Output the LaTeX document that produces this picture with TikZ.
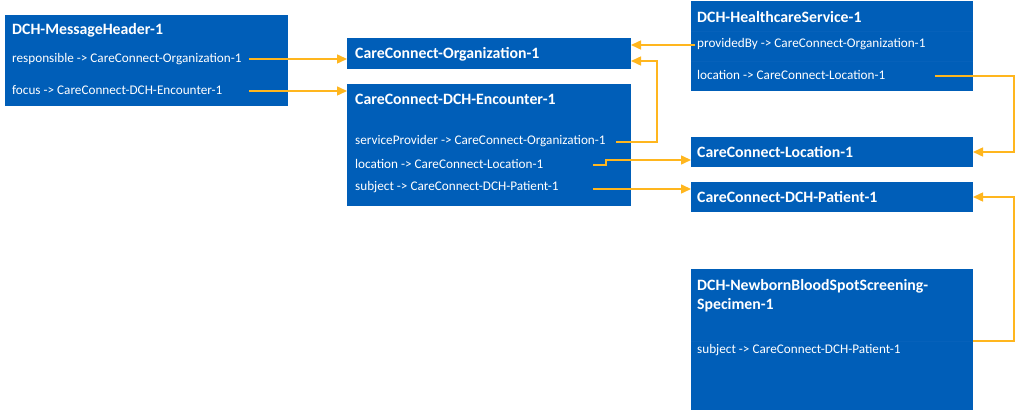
\documentclass[tikz,border=0pt]{standalone}
\usepackage{fontspec}
\setmainfont{Carlito}
\usetikzlibrary{arrows.meta}
\definecolor{boxblue}{RGB}{0,94,184}
\definecolor{sepblue}{RGB}{6,97,186}
\definecolor{linkorange}{RGB}{255,182,30}
\begin{document}
\begin{tikzpicture}[x=1pt,y=-1pt,
  box/.style={fill=boxblue, draw=none, inner sep=0pt, outer sep=0pt, anchor=north west},
  titletext/.style={anchor=west, text=white, inner sep=0pt, font=\bfseries\fontsize{15.8}{19}\selectfont, align=left},
  rowtext/.style={anchor=west, text=white, inner sep=0pt, font=\fontsize{13.2}{15}\selectfont},
  sep/.style={draw=sepblue, line width=0.5pt},
  link/.style={draw=linkorange, line width=1.5pt, -{Triangle[length=10pt,width=9pt]}}
]
\fill[white] (0,0) rectangle (1019,411);
\useasboundingbox (0,0) rectangle (1019,411);

% boxes
\node[box, minimum width=283pt, minimum height=91pt] (mh) at (5,15) {};
\node[box, minimum width=284pt, minimum height=31pt] (org) at (347,38) {};
\node[box, minimum width=284pt, minimum height=122pt] (enc) at (347,84) {};
\node[box, minimum width=282pt, minimum height=90pt] (hs) at (691,1) {};
\node[box, minimum width=282pt, minimum height=30pt] (loc) at (691,137) {};
\node[box, minimum width=282pt, minimum height=30pt] (pat) at (691,182) {};
\node[box, minimum width=282pt, minimum height=141pt] (nb) at (691,269) {};

% faint row separators
\draw[sep] (hs.west |- 0,31) -- (hs.east |- 0,31);
\draw[sep] (hs.west |- 0,61) -- (hs.east |- 0,61);
\draw[sep] (nb.west |- 0,341) -- (nb.east |- 0,341);

% texts
\node[titletext] (mht) at (12,30) {DCH-MessageHeader-1};
\node[rowtext] (mhr) at (12,59) {responsible -> CareConnect-Organization-1};
\node[rowtext] (mhf) at (12,90) {focus -> CareConnect-DCH-Encounter-1};

\node[titletext] (orgt) at (355,54) {CareConnect-Organization-1};

\node[titletext] (enct) at (355,99) {CareConnect-DCH-Encounter-1};
\node[rowtext] (encsp) at (355,141) {serviceProvider -> CareConnect-Organization-1};
\node[rowtext] (encl) at (355,164) {location -> CareConnect-Location-1};
\node[rowtext] (encs) at (355,187) {subject -> CareConnect-DCH-Patient-1};

\node[titletext] (hst) at (697,17) {DCH-HealthcareService-1};
\node[rowtext] (hsp) at (697,44) {providedBy -> CareConnect-Organization-1};
\node[rowtext] (hsl) at (697,75) {location -> CareConnect-Location-1};

\node[titletext] (loct) at (697,152) {CareConnect-Location-1};
\node[titletext] (patt) at (697,197) {CareConnect-DCH-Patient-1};

\node[titletext] (nbt) at (697,296) {DCH-NewbornBloodSpotScreening-\\Specimen-1};
\node[rowtext] (nbs) at (697,350) {subject -> CareConnect-DCH-Patient-1};

% connector start points and bends
\coordinate (c1) at (249,59);
\coordinate (c2) at (249,91);
\coordinate (c3) at (695,45);
\coordinate (c4) at (616,142);
\coordinate (c4b) at (657,61);
\coordinate (c5) at (593,165);
\coordinate (c5b) at (606,160);
\coordinate (c6) at (593,189);
\coordinate (c7) at (935,76);
\coordinate (c7b) at (1014,152);
\coordinate (c8) at (973,341);
\coordinate (c8b) at (1014,197);

% connectors
\draw[link] (c1) -- (c1 -| org.west);
\draw[link] (c2) -- (c2 -| enc.west);
\draw[link] (c3) -- (c3 -| org.east);
\draw[link] (c4) -| (c4b) -- (c4b -| org.east);
\draw[link] (c5) -| (c5b) -- (c5b -| loc.west);
\draw[link] (c6) -- (c6 -| pat.west);
\draw[link] (c7) -| (c7b) -- (loc.east);
\draw[link] (c8) -| (c8b) -- (pat.east);
\end{tikzpicture}
\end{document}
